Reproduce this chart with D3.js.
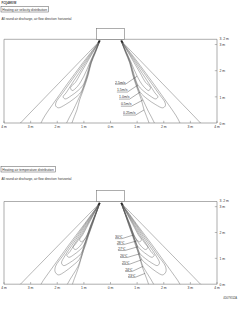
<!DOCTYPE html>
<html>
<head>
<meta charset="utf-8">
<script src="https://cdn.jsdelivr.net/npm/d3@7"></script>
<style>
  body { margin: 0; background: #fff; }
  text { font-family: "Liberation Sans", Arial, sans-serif; fill: #333; opacity: 0.99; }
</style>
</head>
<body>
<div id="chart"></div>
<script>
(function(){
  // ---- data (metres) ----
  var modelName = 'FCQ48KVM'
  var docCode = '4D079552A'
  var xTicks = [-4, -3, -2, -1, 0, 1, 2, 3, 4]
  var yTicks = [0, 1, 2, 3]
  var roomHeight = 3.2
  var outlet = [-0.40, 3.14]          // left outlet, right one is mirrored
  var unitHalfWidth = 0.52
  var unitTop = 3.62

  var velLevels = ['2.5m/s', '1.5m/s', '1.0m/s', '0.5m/s', '0.25m/s']
  // left jet outlines (outer side down, inner side back up)
  var velContours = [
    [[-0.66,2.70],[-0.89,2.30],[-1.12,1.90],[-1.32,1.55],[-1.50,1.36],[-1.44,1.24],[-1.24,1.40],[-1.00,1.79],[-0.78,2.30],[-0.60,2.70]],
    [[-0.68,2.70],[-0.94,2.30],[-1.19,1.90],[-1.45,1.50],[-1.67,1.15],[-1.78,1.00],[-1.70,0.92],[-1.48,1.04],[-1.22,1.24],[-1.03,1.45],[-0.90,1.80],[-0.76,2.30],[-0.59,2.70]],
    [[-0.71,2.70],[-0.99,2.30],[-1.27,1.90],[-1.55,1.50],[-1.83,1.10],[-2.04,0.80],[-2.06,0.66],[-1.96,0.58],[-1.70,0.70],[-1.38,0.92],[-1.11,1.18],[-0.98,1.50],[-0.86,1.85],[-0.74,2.30],[-0.58,2.70]],
    [[-0.74,2.70],[-1.04,2.30],[-1.33,1.90],[-1.62,1.50],[-1.90,1.10],[-2.18,0.70],[-2.45,0.30],[-2.61,0.00],[-2.75,-0.40],[-1.78,-0.40],[-1.65,0.00],[-1.42,0.45],[-1.22,0.88],[-1.08,1.18],[-0.96,1.50],[-0.85,1.85],[-0.73,2.30],[-0.57,2.70]],
    [[-0.82,2.70],[-1.20,2.30],[-1.58,1.90],[-1.96,1.50],[-2.34,1.10],[-2.72,0.70],[-3.10,0.30],[-3.38,0.00],[-3.75,-0.40],[-1.55,-0.40],[-1.45,0.00],[-1.26,0.50],[-1.16,0.88],[-1.05,1.18],[-0.94,1.50],[-0.83,1.85],[-0.72,2.30],[-0.56,2.70]]
  ]
  var velLabelAt = [[0.17,1.51],[0.24,1.21],[0.32,0.94],[0.39,0.67],[0.47,0.33]]
  var velPointAt = [[1.00,1.79],[1.03,1.45],[1.11,1.18],[1.22,0.88],[1.26,0.50]]

  var tempLevels = ['30℃', '28℃', '27℃', '26℃', '25℃', '24℃', '23℃']
  var tempContours = [
    [[-0.63,2.70],[-0.84,2.30],[-1.05,1.90],[-1.16,1.72],[-1.10,1.64],[-0.97,1.74],[-0.88,1.90],[-0.74,2.30],[-0.58,2.70]],
    [[-0.65,2.70],[-0.87,2.30],[-1.09,1.90],[-1.28,1.60],[-1.40,1.42],[-1.32,1.34],[-1.16,1.46],[-1.00,1.68],[-0.87,1.92],[-0.73,2.30],[-0.57,2.70]],
    [[-0.66,2.70],[-0.90,2.30],[-1.14,1.90],[-1.38,1.50],[-1.53,1.25],[-1.64,1.12],[-1.56,1.04],[-1.38,1.14],[-1.18,1.30],[-1.03,1.46],[-0.86,1.90],[-0.72,2.30],[-0.567,2.70]],
    [[-0.68,2.70],[-0.94,2.30],[-1.19,1.90],[-1.45,1.50],[-1.71,1.10],[-1.84,0.82],[-1.76,0.72],[-1.55,0.82],[-1.30,1.00],[-1.11,1.18],[-0.99,1.50],[-0.85,1.90],[-0.71,2.30],[-0.563,2.70]],
    [[-0.70,2.70],[-0.97,2.30],[-1.24,1.90],[-1.52,1.50],[-1.79,1.10],[-2.06,0.70],[-2.08,0.48],[-1.96,0.36],[-1.72,0.48],[-1.42,0.72],[-1.18,0.95],[-1.08,1.18],[-0.98,1.50],[-0.84,1.90],[-0.70,2.30],[-0.558,2.70]],
    [[-0.72,2.70],[-1.00,2.30],[-1.29,1.90],[-1.58,1.50],[-1.86,1.10],[-2.14,0.70],[-2.42,0.30],[-2.61,0.00],[-2.75,-0.40],[-1.75,-0.40],[-1.62,0.00],[-1.40,0.38],[-1.22,0.69],[-1.13,0.95],[-1.05,1.18],[-0.96,1.50],[-0.83,1.90],[-0.69,2.30],[-0.554,2.70]],
    [[-0.82,2.70],[-1.20,2.30],[-1.58,1.90],[-1.96,1.50],[-2.34,1.10],[-2.72,0.70],[-3.10,0.30],[-3.38,0.00],[-3.75,-0.40],[-1.50,-0.40],[-1.43,0.00],[-1.28,0.42],[-1.17,0.75],[-1.09,1.05],[-1.02,1.30],[-0.94,1.50],[-0.82,1.90],[-0.68,2.30],[-0.55,2.70]]
  ]
  var tempLabelAt = [[0.17,1.79],[0.24,1.56],[0.28,1.33],[0.36,1.06],[0.43,0.79],[0.55,0.52],[0.66,0.29]]
  var tempPointAt = [[0.85,1.90],[1.00,1.68],[1.03,1.45],[1.11,1.18],[1.18,0.95],[1.22,0.69],[1.30,0.42]]

  // ---- drawing ----
  var width = 241, height = 319
  var lineCol = '#777', contourCol = '#555'

  var svg = d3.select('#chart').append('svg')
    .attr('width', width).attr('height', height)

  svg.append('text').attr('x', 1.5).attr('y', 3.6)
    .attr('font-size', 2.7).attr('font-weight', 'bold').text(modelName)

  function header(yOff, title) {
    var g = svg.append('g').attr('transform', 'translate(0,' + yOff + ')')
    var t = g.append('text').attr('x', 2.3).attr('y', 10.7)
      .attr('font-size', 3.3).text(title)
    var w = t.node().getComputedTextLength()
    g.insert('rect', 'text').attr('x', 1).attr('y', 6.6)
      .attr('width', w + 2.8).attr('height', 5.4)
      .attr('fill', 'none').attr('stroke', '#555').attr('stroke-width', 0.5)
    g.append('text').attr('x', 1.5).attr('y', 20.3)
      .attr('font-size', 3.1).text('All round air discharge, air flow direction: horizontal')
  }

  function room(top, bottom, id, levels, contours, labelAt, pointAt) {
    var x = d3.scaleLinear().domain([-4, 4]).range([4, 217])
    var y = d3.scaleLinear().domain([0, roomHeight]).range([bottom, top])
    var g = svg.append('g')

    g.append('clipPath').attr('id', id)
      .append('rect')
      .attr('x', x(-4)).attr('y', y(roomHeight))
      .attr('width', x(4) - x(-4)).attr('height', y(0) - y(roomHeight))

    var line = d3.line()
      .x(function(d){ return x(d[0]) })
      .y(function(d){ return y(d[1]) })
      .curve(d3.curveCatmullRom.alpha(0.5))

    var paths = []
    contours.forEach(function(c){
      var left = [outlet].concat(c, [outlet])
      var right = left.map(function(p){ return [-p[0], p[1]] })
      paths.push(left, right)
    })

    g.append('g').attr('clip-path', 'url(#' + id + ')')
      .selectAll('path').data(paths).enter().append('path')
      .attr('d', line)
      .attr('fill', 'none')
      .attr('stroke', contourCol)
      .attr('stroke-width', 0.42)

    // room frame
    g.append('path')
      .attr('d', 'M' + x(-4) + ',' + y(0) + 'V' + y(roomHeight) + 'H' + x(4) + 'V' + y(0) + 'H' + x(-4))
      .attr('fill', 'none').attr('stroke', lineCol).attr('stroke-width', 0.6)

    // indoor unit
    g.append('rect')
      .attr('x', x(-unitHalfWidth)).attr('y', y(unitTop))
      .attr('width', x(unitHalfWidth) - x(-unitHalfWidth))
      .attr('height', y(roomHeight) - y(unitTop))
      .attr('fill', '#fff').attr('stroke', lineCol).attr('stroke-width', 0.6)

    // outlet arrows
    ;[-1, 1].forEach(function(s){
      var ox = x(s * -outlet[0]), oy = y(outlet[1])
      g.append('path')
        .attr('d', 'M' + (ox + s * 0.8) + ',' + (oy - 1) + 'L' + (ox + s * 2.6) + ',' + (oy + 2.4) +
          'L' + (ox - s * 0.6) + ',' + (oy + 0.9) + 'Z')
        .attr('fill', '#222')
    })

    // bottom axis
    var bx = g.append('g')
    bx.selectAll('line').data(xTicks).enter().append('line')
      .attr('x1', function(d){ return x(d) }).attr('x2', function(d){ return x(d) })
      .attr('y1', y(0) - 2.2).attr('y2', y(0))
      .attr('stroke', lineCol).attr('stroke-width', 0.5)
    bx.selectAll('text').data(xTicks).enter().append('text')
      .attr('x', function(d){ return x(d) }).attr('y', y(0) + 4.8)
      .attr('text-anchor', 'middle').attr('font-size', 3.4)
      .text(function(d){ return Math.abs(d) + ' m' })

    // right axis
    var ry = g.append('g')
    ry.selectAll('line').data(yTicks.filter(function(d){ return d > 0 })).enter().append('line')
      .attr('x1', x(4) - 2.2).attr('x2', x(4))
      .attr('y1', function(d){ return y(d) }).attr('y2', function(d){ return y(d) })
      .attr('stroke', lineCol).attr('stroke-width', 0.5)
    ry.selectAll('text').data(yTicks).enter().append('text')
      .attr('x', x(4) + 2.5).attr('y', function(d){ return y(d) + 1.8 })
      .attr('font-size', 3.4).text(function(d){ return d + ' m' })
    ry.append('text').attr('x', x(4) + 2.5).attr('y', y(roomHeight) + 0.4)
      .attr('font-size', 3.4).text('3. 2 m')

    // labels with underline + leader
    levels.forEach(function(lab, i){
      var lx = x(labelAt[i][0]), ly = y(labelAt[i][1])
      var t = g.append('text').attr('x', lx).attr('y', ly)
        .attr('font-size', 3.5).text(lab)
      var w = t.node().getComputedTextLength()
      g.append('path')
        .attr('d', 'M' + lx + ',' + (ly + 0.7) + 'H' + (lx + w) +
          'L' + x(pointAt[i][0]) + ',' + y(pointAt[i][1]))
        .attr('fill', 'none').attr('stroke', '#333').attr('stroke-width', 0.4)
    })
  }

  header(0, 'Heating air velocity distribution')
  room(39.3, 123, 'clipVel', velLevels, velContours, velLabelAt, velPointAt)

  header(160, 'Heating air temperature distribution')
  room(201.5, 284.2, 'clipTemp', tempLevels, tempContours, tempLabelAt, tempPointAt)

  svg.append('text').attr('x', 237).attr('y', 299)
    .attr('text-anchor', 'end').attr('font-size', 2.6).text(docCode)
})()
</script>
</body>
</html>
